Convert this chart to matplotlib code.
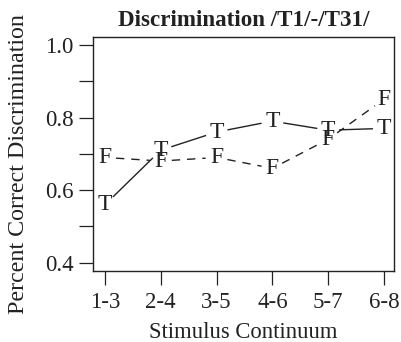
import numpy as np
import matplotlib
matplotlib.use('Agg')
import matplotlib.pyplot as plt

# Values
categories = ['1-3', '2-4', '3-5', '4-6', '5-7', '6-8']
t_values   = [0.56, 0.71, 0.76, 0.79, 0.765, 0.77]
f_values   = [0.69, 0.68, 0.69, 0.66, 0.74, 0.85]
y_ticks    = [0.4, 0.5, 0.6, 0.7, 0.8, 0.9, 1.0]
y_labels   = ['0.4', '', '0.6', '', '0.8', '', '1.0']

plt.rcParams['font.family'] = ['Liberation Serif', 'DejaVu Serif']
ink = '#222222'

fig = plt.figure(figsize=(4.01, 3.42), dpi=100)
ax  = fig.add_axes([0.2327, 0.2085, 0.7498, 0.6842])

x = np.arange(1, len(categories) + 1)
ax.set_xlim(0.79, 6.18)
ax.set_ylim(0.378, 1.0226)


def draw_type_b(xs, ys, letter, style):
    """R-style type='b': letters at the points, lines that stop short of them."""
    gap = 11  # pixels
    pts = ax.transData.transform(np.column_stack([xs, ys]))
    inv = ax.transData.inverted()
    for p0, p1 in zip(pts[:-1], pts[1:]):
        d = p1 - p0
        length = np.hypot(*d)
        if length <= 2 * gap:
            continue
        u = d / length
        a = inv.transform(p0 + u * gap)
        b = inv.transform(p1 - u * gap)
        ax.plot([a[0], b[0]], [a[1], b[1]], color=ink, lw=1.0, linestyle=style,
                dashes=(6, 5) if style == '--' else (None, None), solid_capstyle='butt')
    for xi, yi in zip(xs, ys):
        ax.text(xi, yi, letter, ha='center', va='center', fontsize=17, color=ink)


draw_type_b(x, f_values, 'F', '--')
draw_type_b(x, t_values, 'T', '-')

ax.set_xticks(x)
ax.set_xticklabels(categories)
ax.set_yticks(y_ticks)
ax.set_yticklabels(y_labels)
ax.tick_params(direction='out', length=10, width=0.9, colors=ink, labelsize=16.5)
ax.tick_params(axis='x', pad=5)
ax.tick_params(axis='y', pad=4)

for spine in ax.spines.values():
    spine.set_linewidth(1.0)
    spine.set_color(ink)

ax.set_xlabel('Stimulus Continuum', fontsize=16.3, color=ink, labelpad=6.5)
ax.set_ylabel('Percent Correct Discrimination', fontsize=17.3, color=ink)
ax.yaxis.set_label_coords(-0.214, 0.458)
ax.set_title('Discrimination /T1/-/T31/', fontsize=16.6, fontweight='bold', color=ink, pad=8)

fig.savefig('out.png', dpi=100)
